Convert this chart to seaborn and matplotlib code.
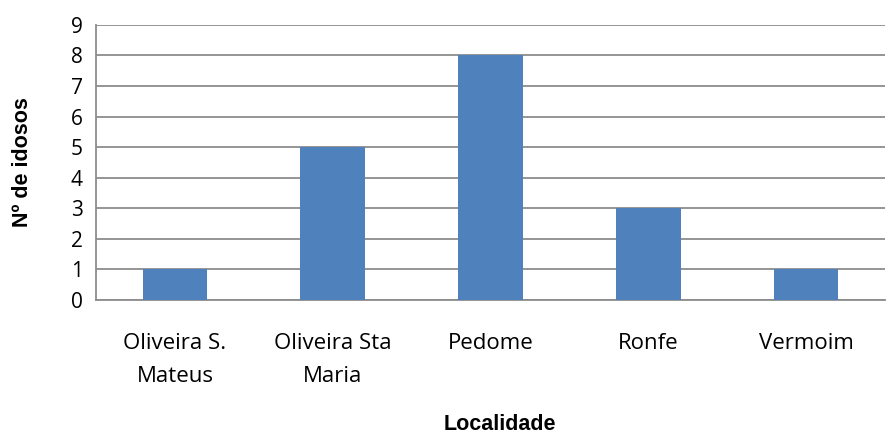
import numpy as np
import pandas as pd
import matplotlib.pyplot as plt
import seaborn as sns

localidades = ['Oliveira S.\nMateus', 'Oliveira Sta\nMaria', 'Pedome', 'Ronfe', 'Vermoim']
idosos = [1, 5, 8, 3, 1]

df = pd.DataFrame({'localidade': localidades, 'idosos': idosos})

sns.set_style('white')
plt.rcParams['font.family'] = ['Open Sans', 'DejaVu Sans']
plt.rcParams['text.color'] = 'black'
plt.rcParams['xtick.color'] = 'black'
plt.rcParams['ytick.color'] = 'black'
plt.rcParams['axes.labelcolor'] = 'black'

fig = plt.figure(figsize=(8.93, 4.37), dpi=100)
ax = fig.add_axes([0.1075, 0.3135, 0.8835, 0.6295])

sns.barplot(x='localidade', y='idosos', data=df, color='#4F81BD', width=0.41,
            saturation=1, linewidth=0, ax=ax, zorder=3)

ax.set_ylim(0, 9)
ax.set_yticks(range(0, 10))
ax.grid(axis='y', color='#8c8c8c', linewidth=1.3, zorder=0)
ax.set_axisbelow(True)

for s in ['top', 'right']:
    ax.spines[s].set_visible(False)
ax.spines['left'].set_color('#8c8c8c')
ax.spines['left'].set_linewidth(1.3)
ax.spines['bottom'].set_color('#8c8c8c')
ax.spines['bottom'].set_linewidth(1.3)

ax.tick_params(axis='y', length=6.5, width=1.3, color='#8c8c8c', pad=3, labelsize=15)
ax.tick_params(axis='x', length=0, pad=24, labelsize=16)
for lbl in ax.get_xticklabels():
    lbl.set_linespacing(1.75)

ax.set_xlabel('Localidade', fontsize=15.5, fontweight='bold',
              family=['Liberation Sans', 'DejaVu Sans'])
ax.set_ylabel('Nº de idosos', fontsize=15.5, fontweight='bold',
              family=['Liberation Sans', 'DejaVu Sans'])
ax.xaxis.label.set_va('center')
ax.yaxis.label.set_va('center')
ax.xaxis.set_label_coords((500 - 96) / 789, -(424 - 300) / 275)
ax.yaxis.set_label_coords((22 - 96) / 789, (300 - 162) / 275)

fig.savefig('out.png', dpi=100)
